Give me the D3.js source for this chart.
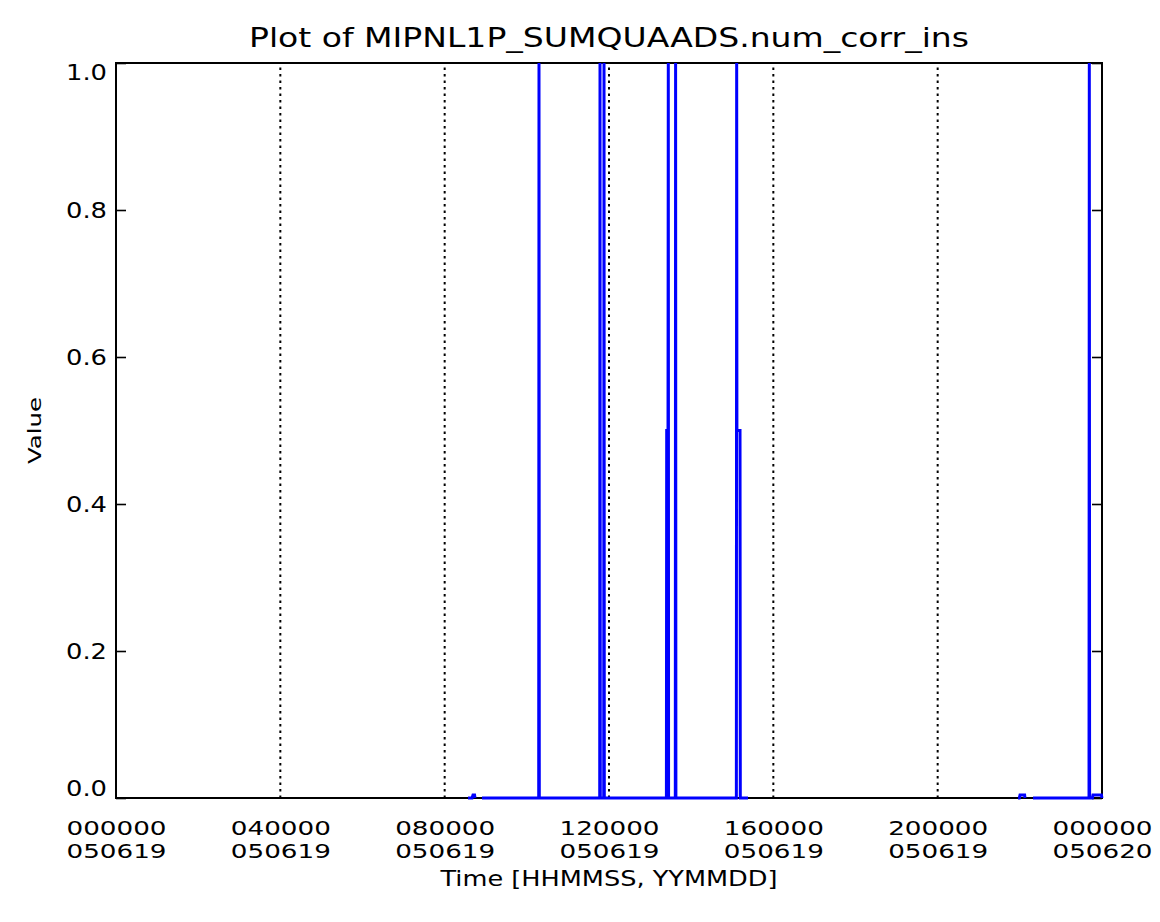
<!DOCTYPE html>
<html>
<head>
<meta charset="utf-8">
<script src="https://cdn.jsdelivr.net/npm/d3@7"></script>
<style>
  html, body { margin: 0; padding: 0; background: #fff; }
  svg { display: block; }
  text { font-family: "DejaVu Sans", sans-serif; fill: #000; }
</style>
</head>
<body>
<svg id="chart" width="1160" height="922"></svg>
<script>
// ---- data (seconds since 000000 of 050619, value; null = data gap) ----
const timeSec = [30845, 31200, 31283, 31420, 31460, 31500,
  32071, 37040, 37066, 37092,
  42386, 42412, 42438,
  42737, 42763, 42789,
  48230, 48256, 48370, 48396, 48420,
  49010, 49036, 49062,
  54360, 54388, 54410, 54680, 54706,
  55381, 55400,
  79040, 79150, 79215, 79620, 79653, 79700,
  80352, 85262, 85288, 85314,
  85560, 85611, 86350, 86400];
const values = [0, 0, 0.004, 0.004, 0, null,
  0, 0, 1, 0,
  0, 1, 0,
  0, 1, 0,
  0, 0.5, 0.5, 1, 0,
  0, 1, 0,
  0, 1, 0.5, 0.5, 0,
  0, null,
  0, 0, 0.004, 0.004, 0, null,
  0, 0, 1, 0,
  0, 0.004, 0.004, 0];

const xTickSec = [0, 14400, 28800, 43200, 57600, 72000, 86400];
const xTickTime = ["000000", "040000", "080000", "120000", "160000", "200000", "000000"];
const xTickDate = ["050619", "050619", "050619", "050619", "050619", "050619", "050620"];
const yTicks = [0, 0.2, 0.4, 0.6, 0.8, 1.0];
const yTickLabels = ["0.0", "0.2", "0.4", "0.6", "0.8", "1.0"];

const titleText = "Plot of MIPNL1P_SUMQUAADS.num_corr_ins";
const xTitle = "Time [HHMMSS, YYMMDD]";
const yTitle = "Value";

// ---- layout ----
const L = 116, R = 1102, T = 63, B = 798;
const svg = d3.select("#chart");
const x = d3.scaleLinear().domain([0, 86400]).range([L, R]);
const y = d3.scaleLinear().domain([0, 1]).range([B, T]);

// dotted grid at inner x ticks
svg.append("g").selectAll("line")
  .data(xTickSec.slice(1, -1))
  .join("line")
  .attr("x1", d => x(d)).attr("x2", d => x(d))
  .attr("y1", y(0)).attr("y2", y(1))
  .attr("stroke", "#000").attr("stroke-width", 2)
  .attr("stroke-dasharray", "2.5,4");

// left axis
const gl = svg.append("g").attr("transform", `translate(${L},0)`)
  .call(d3.axisLeft(y).tickValues(yTicks).tickSize(-10).tickSizeOuter(0).tickPadding(9)
    .tickFormat((d, i) => yTickLabels[i]));
gl.select(".domain").remove();
gl.selectAll(".tick line").attr("stroke", "#000").attr("stroke-width", 1.6);
gl.selectAll(".tick text")
  .attr("font-size", 22).attr("fill", "#000")
  .attr("textLength", 41).attr("lengthAdjust", "spacingAndGlyphs")
  .attr("dy", (d) => d === 0 ? "-0.1em" : (d === 1 ? "0.75em" : "0.35em"));

// right axis ticks
const gr = svg.append("g").attr("transform", `translate(${R},0)`)
  .call(d3.axisRight(y).tickValues(yTicks).tickSize(-10).tickSizeOuter(0).tickFormat(""));
gr.select(".domain").remove();
gr.selectAll(".tick line").attr("stroke", "#000").attr("stroke-width", 1.6);

// bottom axis
const gb = svg.append("g").attr("transform", `translate(0,${B})`)
  .call(d3.axisBottom(x).tickValues(xTickSec).tickSize(0).tickSizeOuter(0).tickFormat(""));
gb.select(".domain").remove();
gb.selectAll(".tick text").remove();
gb.selectAll(".tick").each(function (d, i) {
  const g = d3.select(this);
  g.append("text").attr("y", 37).attr("text-anchor", "middle")
    .attr("font-size", 19).attr("textLength", 100).attr("lengthAdjust", "spacingAndGlyphs")
    .text(xTickTime[i]);
  g.append("text").attr("y", 60).attr("text-anchor", "middle")
    .attr("font-size", 19).attr("textLength", 100).attr("lengthAdjust", "spacingAndGlyphs")
    .text(xTickDate[i]);
});

// frame
svg.append("rect")
  .attr("x", L).attr("y", T).attr("width", R - L).attr("height", B - T)
  .attr("fill", "none").attr("stroke", "#000").attr("stroke-width", 2);

// data line
const data = timeSec.map((t, i) => ({ t, v: values[i] }));
const line = d3.line().defined(d => d.v !== null).x(d => x(d.t)).y(d => y(d.v));
svg.append("path")
  .datum(data)
  .attr("d", line)
  .attr("fill", "none")
  .attr("stroke", "#0000ff")
  .attr("stroke-width", 3);

// titles
svg.append("text")
  .attr("x", (L + R) / 2).attr("y", 47).attr("text-anchor", "middle")
  .attr("font-size", 26).attr("textLength", 720).attr("lengthAdjust", "spacingAndGlyphs")
  .text(titleText);
svg.append("text")
  .attr("x", (L + R) / 2).attr("y", 886).attr("text-anchor", "middle")
  .attr("font-size", 21).attr("textLength", 337).attr("lengthAdjust", "spacingAndGlyphs")
  .text(xTitle);
svg.append("text")
  .attr("transform", `translate(41,${(T + B) / 2}) rotate(-90)`)
  .attr("text-anchor", "middle")
  .attr("font-size", 18).attr("textLength", 67).attr("lengthAdjust", "spacingAndGlyphs")
  .text(yTitle);
</script>
</body>
</html>
